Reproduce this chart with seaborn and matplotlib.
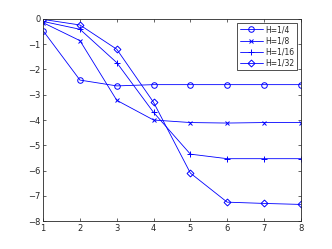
import matplotlib
matplotlib.use("Agg")
import matplotlib.pyplot as plt
import numpy as np
import pandas as pd
import seaborn as sns

# values
steps = [1, 2, 3, 4, 5, 6, 7, 8]
h_quarter = [-0.47, -2.42, -2.65, -2.6, -2.6, -2.6, -2.6, -2.6]
h_eighth = [-0.15, -0.86, -3.22, -4.0, -4.1, -4.12, -4.1, -4.1]
h_sixteenth = [-0.1, -0.41, -1.73, -3.7, -5.35, -5.53, -5.53, -5.53]
h_thirtysecond = [-0.02, -0.24, -1.2, -3.3, -6.1, -7.25, -7.3, -7.34]
labels = ["H=1/4", "H=1/8", "H=1/16", "H=1/32"]
series = [h_quarter, h_eighth, h_sixteenth, h_thirtysecond]
marker_list = ["o", "x", "+", "D"]
marker_sizes = [4, 3, 4, 3.5]

sns.set_style("ticks")
plt.rcParams["font.family"] = ["DejaVu Sans"]

fig = plt.figure(figsize=(3.32, 2.49), dpi=100)
ax = fig.add_axes([0.13, 0.112, 0.776, 0.812])

for lab, vals, mk, ms in zip(labels, series, marker_list, marker_sizes):
    sns.lineplot(x=steps, y=vals, label=lab, color="blue", linewidth=0.6,
                 marker=mk, markersize=ms,
                 markerfacecolor="none", markeredgecolor="blue",
                 markeredgewidth=0.7, ax=ax)

ax.set_xlim(1, 8)
ax.set_ylim(-8, 0)
ax.set_xticks(steps)
ax.set_yticks(range(-8, 1))
ax.tick_params(direction="in", labelsize=6, length=2.5, width=0.5,
               top=True, right=True, pad=2)
for sp in ax.spines.values():
    sp.set_visible(True)
    sp.set_linewidth(0.6)

leg = ax.legend(loc="upper right", fontsize=5.5, frameon=True, fancybox=False,
                edgecolor="black", borderpad=0.3, labelspacing=0.3,
                handlelength=3, handletextpad=0.4, borderaxespad=0.5)
leg.get_frame().set_linewidth(0.6)

fig.savefig("out.png", dpi=100)
